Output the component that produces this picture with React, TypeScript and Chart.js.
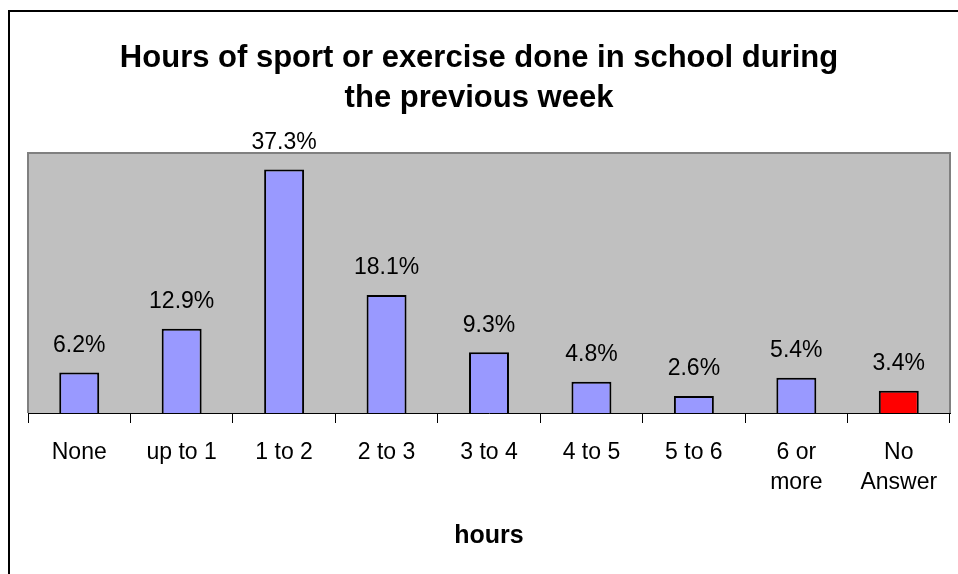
import React, { useEffect, useRef } from "react";
import { Chart, registerables } from "chart.js";

Chart.register(...registerables);

const titleLines = ["Hours of sport or exercise done in school during", "the previous week"];
const categories: (string | string[])[] = [
  "None",
  "up to 1",
  "1 to 2",
  "2 to 3",
  "3 to 4",
  "4 to 5",
  "5 to 6",
  ["6 or", "more"],
  ["No", "Answer"],
];
const values = [6.2, 12.9, 37.3, 18.1, 9.3, 4.8, 2.6, 5.4, 3.4];
const barColors = ["#9999FF", "#9999FF", "#9999FF", "#9999FF", "#9999FF", "#9999FF", "#9999FF", "#9999FF", "#FF0000"];
const xTitle = "hours";

const FONT = "'Liberation Sans', Arial, Helvetica, sans-serif";

const framePlugin = {
  id: "frame",
  beforeDraw(chart: any) {
    const { ctx, chartArea } = chart;
    const { left, top, right, bottom } = chartArea;
    ctx.save();
    ctx.fillStyle = "#ffffff";
    ctx.fillRect(0, 0, chart.width, chart.height);
    // outer border (left and top)
    ctx.fillStyle = "#000000";
    ctx.fillRect(8, 10, 2, chart.height - 10);
    ctx.fillRect(8, 10, chart.width - 8, 2);
    // plot area
    ctx.fillStyle = "#C0C0C0";
    ctx.fillRect(left, top, right - left, bottom - top);
    ctx.fillStyle = "#808080";
    ctx.fillRect(left - 1, top, 2, bottom - top);
    ctx.fillRect(right - 1, top, 2, bottom - top);
    ctx.fillRect(left - 1, top, right - left + 2, 2);
    ctx.restore();
  },
};

const labelPlugin = {
  id: "valueLabels",
  afterDatasetsDraw(chart: any) {
    const { ctx } = chart;
    const meta = chart.getDatasetMeta(0);
    ctx.save();
    ctx.font = `23px ${FONT}`;
    ctx.fillStyle = "#000000";
    ctx.textAlign = "center";
    ctx.textBaseline = "middle";
    meta.data.forEach((bar: any, i: number) => {
      ctx.fillText(values[i].toFixed(1) + "%", bar.x, bar.y - 27);
    });
    ctx.restore();
  },
};

export default function App() {
  const ref = useRef<HTMLCanvasElement | null>(null);

  useEffect(() => {
    if (!ref.current) return;
    const chart = new Chart(ref.current, {
      type: "bar",
      data: {
        labels: categories as any,
        datasets: [
          {
            data: values,
            backgroundColor: barColors,
            borderColor: "#000000",
            borderWidth: 2,
            barPercentage: 0.39,
            categoryPercentage: 1,
          },
        ],
      },
      options: {
        animation: false,
        responsive: false,
        devicePixelRatio: 1,
        layout: { padding: { left: 8, right: 8, top: 0, bottom: 23 } },
        plugins: {
          legend: { display: false },
          tooltip: { enabled: false },
          title: {
            display: true,
            text: titleLines,
            color: "#000000",
            font: { family: FONT, size: 31, weight: "bold", lineHeight: 40 / 31 },
            padding: { top: 38, bottom: 34 },
          },
        },
        scales: {
          x: {
            grid: {
              display: true,
              drawOnChartArea: false,
              drawTicks: true,
              tickLength: 10,
              color: "#000000",
              offset: true,
            },
            border: { display: true, color: "#000000", width: 1 },
            ticks: {
              color: "#000000",
              padding: 15,
              maxRotation: 0,
              autoSkip: false,
              font: { family: FONT, size: 23, lineHeight: 30 / 23 },
            },
            title: {
              display: true,
              text: xTitle,
              color: "#000000",
              font: { family: FONT, size: 25, weight: "bold", lineHeight: 1.2 },
              padding: { top: 8, bottom: 0 },
            },
          },
          y: {
            min: 0,
            max: 40,
            display: true,
            grid: { display: false },
            border: { display: false },
            ticks: { display: false },
            afterFit: (scale: any) => {
              scale.width = 20;
            },
          },
        },
      },
      plugins: [framePlugin, labelPlugin],
    });
    return () => chart.destroy();
  }, []);

  return (
    <canvas
      ref={ref}
      width={958}
      height={574}
      style={{ position: "absolute", left: 0, top: 0, width: 958, height: 574, display: "block" }}
    />
  );
}
